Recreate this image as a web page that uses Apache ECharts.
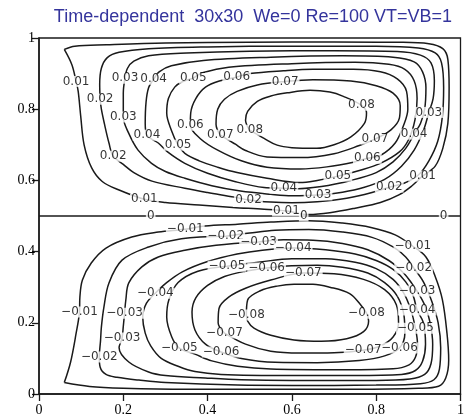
<!DOCTYPE html>
<html>
<head>
<meta charset="utf-8">
<script src="https://cdn.jsdelivr.net/npm/echarts@6/dist/echarts.min.js"></script>
<style>
  html, body { margin: 0; padding: 0; background: #fff; }
  #chart { width: 467px; height: 419px; }
</style>
</head>
<body>
<div id="chart"></div>
<script>
// Stream-function isolines, two-sided driven cavity, 30x30 grid.
// Each array is one isoline traced as [x, y] points in cavity units.

const axisTicks = [0, 0.2, 0.4, 0.6, 0.8, 1];

// Upper vortex (positive levels)
const psiP01 = [[0.060,0.968],[0.085,0.977],[0.16,0.981],[0.3,0.986],[0.5,0.988],[0.7,0.989],[0.85,0.988],[0.925,0.984],[0.958,0.97],[0.97,0.94],[0.973,0.86],[0.97,0.76],[0.958,0.69],[0.94,0.64],[0.91,0.612],[0.885,0.585],[0.855,0.56],[0.81,0.538],[0.75,0.522],[0.69,0.509],[0.64,0.504],[0.587,0.514],[0.534,0.519],[0.46,0.524],[0.38,0.531],[0.3,0.538],[0.25,0.547],[0.19,0.573],[0.15,0.597],[0.125,0.635],[0.107,0.7],[0.099,0.78],[0.093,0.85],[0.088,0.878],[0.078,0.925],[0.060,0.968]];
const psiP02 = [[0.145,0.828],[0.144,0.87],[0.148,0.915],[0.162,0.945],[0.19,0.96],[0.26,0.97],[0.4,0.975],[0.6,0.977],[0.8,0.977],[0.9,0.972],[0.94,0.958],[0.955,0.93],[0.96,0.86],[0.957,0.78],[0.946,0.71],[0.925,0.655],[0.9,0.615],[0.866,0.592],[0.831,0.581],[0.79,0.566],[0.73,0.55],[0.66,0.54],[0.6,0.537],[0.55,0.539],[0.497,0.545],[0.464,0.553],[0.4,0.566],[0.346,0.578],[0.268,0.598],[0.225,0.622],[0.2,0.645],[0.176,0.668],[0.166,0.705],[0.155,0.76],[0.148,0.8],[0.145,0.828]];
const psiP03 = [[0.204,0.887],[0.21,0.915],[0.225,0.935],[0.26,0.95],[0.35,0.958],[0.5,0.963],[0.7,0.964],[0.85,0.962],[0.905,0.952],[0.93,0.93],[0.938,0.88],[0.935,0.83],[0.925,0.791],[0.912,0.74],[0.89,0.685],[0.86,0.64],[0.82,0.603],[0.77,0.58],[0.72,0.567],[0.662,0.559],[0.6,0.557],[0.55,0.561],[0.478,0.57],[0.41,0.585],[0.346,0.606],[0.3,0.625],[0.267,0.648],[0.235,0.685],[0.213,0.732],[0.2,0.778],[0.2,0.81],[0.2,0.845],[0.204,0.887]];
const psiP04 = [[0.272,0.884],[0.285,0.905],[0.314,0.922],[0.39,0.937],[0.55,0.946],[0.72,0.95],[0.84,0.946],[0.89,0.933],[0.91,0.905],[0.918,0.86],[0.915,0.8],[0.905,0.76],[0.89,0.73],[0.87,0.69],[0.84,0.652],[0.8,0.622],[0.74,0.6],[0.67,0.583],[0.6,0.576],[0.581,0.578],[0.534,0.58],[0.464,0.597],[0.4,0.62],[0.346,0.648],[0.305,0.68],[0.283,0.705],[0.256,0.727],[0.252,0.76],[0.254,0.82],[0.26,0.86],[0.272,0.884]];
const psiP05 = [[0.366,0.887],[0.39,0.903],[0.45,0.918],[0.6,0.928],[0.75,0.932],[0.83,0.926],[0.868,0.912],[0.89,0.88],[0.897,0.83],[0.892,0.77],[0.877,0.715],[0.855,0.68],[0.81,0.648],[0.76,0.628],[0.709,0.612],[0.66,0.6],[0.619,0.594],[0.541,0.606],[0.47,0.622],[0.424,0.637],[0.38,0.655],[0.346,0.676],[0.33,0.699],[0.314,0.741],[0.303,0.789],[0.307,0.83],[0.322,0.862],[0.34,0.877],[0.366,0.887]];
const psiP06 = [[0.469,0.89],[0.5,0.9],[0.58,0.908],[0.65,0.912],[0.746,0.912],[0.81,0.905],[0.85,0.885],[0.872,0.85],[0.875,0.8],[0.865,0.755],[0.845,0.705],[0.81,0.67],[0.779,0.662],[0.746,0.651],[0.683,0.638],[0.62,0.632],[0.541,0.637],[0.48,0.655],[0.424,0.685],[0.385,0.715],[0.359,0.755],[0.36,0.79],[0.372,0.83],[0.395,0.862],[0.43,0.88],[0.469,0.89]];
const psiP07 = [[0.43,0.727],[0.42,0.758],[0.424,0.8],[0.44,0.828],[0.47,0.85],[0.518,0.868],[0.584,0.878],[0.65,0.883],[0.74,0.879],[0.8,0.866],[0.84,0.845],[0.857,0.81],[0.855,0.775],[0.835,0.742],[0.797,0.716],[0.76,0.698],[0.7,0.675],[0.62,0.664],[0.541,0.666],[0.49,0.684],[0.464,0.703],[0.43,0.727]];
const psiP08 = [[0.5,0.741],[0.49,0.769],[0.495,0.794],[0.518,0.822],[0.55,0.837],[0.589,0.846],[0.643,0.853],[0.69,0.848],[0.722,0.836],[0.765,0.811],[0.777,0.79],[0.772,0.76],[0.74,0.722],[0.7,0.7],[0.659,0.69],[0.6,0.692],[0.565,0.699],[0.534,0.718],[0.5,0.741]];

// Lower vortex (negative levels)
const psiN01 = [[0.06,0.032],[0.075,0.09],[0.088,0.17],[0.096,0.23],[0.097,0.272],[0.103,0.32],[0.124,0.368],[0.159,0.41],[0.22,0.441],[0.283,0.455],[0.347,0.463],[0.394,0.472],[0.471,0.477],[0.55,0.483],[0.64,0.487],[0.72,0.48],[0.79,0.467],[0.845,0.447],[0.887,0.415],[0.918,0.385],[0.94,0.33],[0.957,0.265],[0.968,0.17],[0.972,0.095],[0.965,0.045],[0.948,0.022],[0.9,0.016],[0.75,0.013],[0.55,0.013],[0.35,0.013],[0.2,0.016],[0.12,0.021],[0.06,0.032]];
const psiN02 = [[0.443,0.443],[0.5,0.452],[0.56,0.46],[0.64,0.462],[0.72,0.455],[0.79,0.44],[0.84,0.413],[0.87,0.385],[0.889,0.354],[0.912,0.315],[0.932,0.26],[0.947,0.2],[0.953,0.13],[0.95,0.07],[0.937,0.04],[0.905,0.029],[0.8,0.025],[0.6,0.024],[0.471,0.025],[0.3,0.032],[0.237,0.039],[0.185,0.047],[0.159,0.055],[0.145,0.076],[0.143,0.104],[0.146,0.15],[0.148,0.188],[0.154,0.244],[0.166,0.312],[0.197,0.376],[0.26,0.413],[0.338,0.436],[0.443,0.443]];
const psiN03 = [[0.521,0.427],[0.58,0.433],[0.65,0.432],[0.72,0.423],[0.78,0.405],[0.83,0.375],[0.865,0.34],[0.885,0.31],[0.897,0.289],[0.915,0.25],[0.928,0.2],[0.934,0.14],[0.93,0.085],[0.915,0.055],[0.88,0.042],[0.8,0.038],[0.6,0.038],[0.48,0.04],[0.394,0.045],[0.3,0.052],[0.26,0.062],[0.213,0.09],[0.19,0.13],[0.197,0.157],[0.2,0.19],[0.203,0.227],[0.206,0.264],[0.213,0.312],[0.244,0.357],[0.283,0.385],[0.346,0.404],[0.42,0.418],[0.521,0.427]];
const psiN04 = [[0.276,0.283],[0.3,0.31],[0.34,0.343],[0.4,0.372],[0.47,0.393],[0.53,0.404],[0.603,0.41],[0.68,0.405],[0.75,0.393],[0.8,0.375],[0.84,0.35],[0.87,0.315],[0.888,0.275],[0.897,0.236],[0.912,0.2],[0.917,0.14],[0.91,0.092],[0.893,0.066],[0.86,0.055],[0.75,0.052],[0.6,0.052],[0.432,0.055],[0.37,0.063],[0.33,0.078],[0.29,0.1],[0.265,0.135],[0.252,0.171],[0.246,0.216],[0.255,0.255],[0.276,0.283]];
const psiN05 = [[0.446,0.359],[0.52,0.37],[0.6,0.38],[0.68,0.38],[0.75,0.37],[0.8,0.352],[0.84,0.322],[0.865,0.284],[0.882,0.237],[0.893,0.185],[0.898,0.14],[0.893,0.103],[0.878,0.082],[0.84,0.071],[0.7,0.068],[0.55,0.07],[0.471,0.078],[0.41,0.093],[0.37,0.112],[0.333,0.129],[0.315,0.16],[0.303,0.216],[0.308,0.264],[0.33,0.313],[0.377,0.345],[0.446,0.359]];
const psiN06 = [[0.54,0.354],[0.6,0.36],[0.66,0.362],[0.72,0.356],[0.78,0.34],[0.82,0.313],[0.85,0.275],[0.866,0.22],[0.868,0.17],[0.855,0.129],[0.82,0.107],[0.76,0.094],[0.66,0.088],[0.56,0.089],[0.48,0.1],[0.432,0.118],[0.395,0.14],[0.37,0.18],[0.363,0.23],[0.372,0.27],[0.4,0.305],[0.44,0.33],[0.49,0.345],[0.54,0.354]];
const psiN07 = [[0.44,0.171],[0.425,0.2],[0.427,0.24],[0.45,0.272],[0.49,0.297],[0.55,0.32],[0.627,0.34],[0.7,0.338],[0.77,0.322],[0.82,0.293],[0.848,0.25],[0.853,0.2],[0.84,0.16],[0.81,0.135],[0.769,0.123],[0.7,0.116],[0.62,0.115],[0.55,0.12],[0.49,0.14],[0.44,0.171]];
const psiN08 = [[0.492,0.222],[0.495,0.264],[0.525,0.29],[0.565,0.303],[0.605,0.308],[0.65,0.308],[0.69,0.3],[0.737,0.282],[0.762,0.252],[0.777,0.227],[0.782,0.205],[0.77,0.175],[0.73,0.155],[0.67,0.148],[0.605,0.152],[0.55,0.165],[0.51,0.185],[0.495,0.205],[0.492,0.222]];

// Dividing streamline between the two vortices
const psiZero = [[0, 0.5], [1, 0.5]];

// Level labels placed on the isolines: [x, y, text]
const labelsUpper = [
  [0.088,0.878,'0.01'],[0.25,0.547,'0.01'],[0.587,0.514,'0.01'],[0.91,0.612,'0.01'],
  [0.145,0.828,'0.02'],[0.176,0.668,'0.02'],[0.497,0.545,'0.02'],[0.831,0.581,'0.02'],
  [0.204,0.887,'0.03'],[0.2,0.778,'0.03'],[0.662,0.559,'0.03'],[0.925,0.791,'0.03'],
  [0.272,0.884,'0.04'],[0.256,0.727,'0.04'],[0.581,0.578,'0.04'],[0.89,0.73,'0.04'],
  [0.366,0.887,'0.05'],[0.33,0.699,'0.05'],[0.709,0.612,'0.05'],
  [0.469,0.89,'0.06'],[0.359,0.755,'0.06'],[0.779,0.662,'0.06'],
  [0.43,0.727,'0.07'],[0.584,0.878,'0.07'],[0.797,0.716,'0.07'],
  [0.5,0.741,'0.08'],[0.765,0.811,'0.08']
];
const labelsLower = [
  [0.096,0.23,'\u22120.01'],[0.347,0.463,'\u22120.01'],[0.887,0.415,'\u22120.01'],
  [0.443,0.443,'\u22120.02'],[0.889,0.354,'\u22120.02'],[0.143,0.104,'\u22120.02'],
  [0.521,0.427,'\u22120.03'],[0.897,0.289,'\u22120.03'],[0.203,0.227,'\u22120.03'],[0.197,0.157,'\u22120.03'],
  [0.276,0.283,'\u22120.04'],[0.603,0.41,'\u22120.04'],[0.897,0.236,'\u22120.04'],
  [0.446,0.359,'\u22120.05'],[0.893,0.185,'\u22120.05'],[0.333,0.129,'\u22120.05'],
  [0.54,0.354,'\u22120.06'],[0.855,0.129,'\u22120.06'],[0.432,0.118,'\u22120.06'],
  [0.44,0.171,'\u22120.07'],[0.627,0.34,'\u22120.07'],[0.769,0.123,'\u22120.07'],
  [0.492,0.222,'\u22120.08'],[0.777,0.227,'\u22120.08']
];
const labelsZero = [[0.265,0.5,'0'],[0.628,0.5,'0'],[0.96,0.5,'0']];

const isolines = [psiP01, psiP02, psiP03, psiP04, psiP05, psiP06, psiP07, psiP08,
                  psiN01, psiN02, psiN03, psiN04, psiN05, psiN06, psiN07, psiN08];

const ink = '#1a1a1a';
const serif = 'Liberation Serif';

const lineSeries = isolines.map(pts => ({
  type: 'line',
  data: pts,
  smooth: 0.35,
  symbol: 'none',
  silent: true,
  lineStyle: { color: ink, width: 1.5 },
  z: 2
}));

lineSeries.push({
  type: 'line',
  data: psiZero,
  symbol: 'none',
  silent: true,
  lineStyle: { color: ink, width: 1.5 },
  z: 2
});

const labelData = labelsUpper.concat(labelsLower, labelsZero)
  .map(l => ({ value: [l[0], l[1]], name: l[2] }));

const axisCommon = {
  type: 'value',
  min: axisTicks[0],
  max: axisTicks[axisTicks.length - 1],
  interval: axisTicks[1] - axisTicks[0],
  axisLine: { show: true, lineStyle: { color: ink, width: 1.5 } },
  axisTick: { show: true, inside: false, length: 7, lineStyle: { color: ink, width: 1.3 } },
  splitLine: { show: false },
  axisLabel: { color: '#000', fontFamily: serif, fontSize: 14, margin: 4 }
};

const chart = echarts.init(document.getElementById('chart'), null, { renderer: 'canvas' });
chart.setOption({
  animation: false,
  backgroundColor: '#fff',
  title: {
    text: 'Time-dependent  30x30  We=0 Re=100 VT=VB=1',
    left: 248,
    top: 3,
    textAlign: 'center',
    textStyle: { color: '#34349c', fontFamily: 'Liberation Sans', fontSize: 18, fontWeight: 'normal' }
  },
  grid: {
    left: 39, right: 2, top: 38, bottom: 25,
    show: true, borderColor: ink, borderWidth: 1.3, backgroundColor: 'transparent'
  },
  xAxis: Object.assign({}, axisCommon, {
    axisLabel: Object.assign({}, axisCommon.axisLabel, { margin: 9 })
  }),
  yAxis: axisCommon,
  series: lineSeries.concat([{
    type: 'scatter',
    data: labelData,
    symbolSize: 0,
    silent: true,
    z: 5,
    label: {
      show: true,
      position: 'inside',
      formatter: '{b}',
      fontFamily: 'DejaVu Sans',
      fontSize: 12,
      color: '#000',
      backgroundColor: '#fff',
      padding: [0, 1],
      lineHeight: 11
    }
  }])
});
</script>
</body>
</html>
